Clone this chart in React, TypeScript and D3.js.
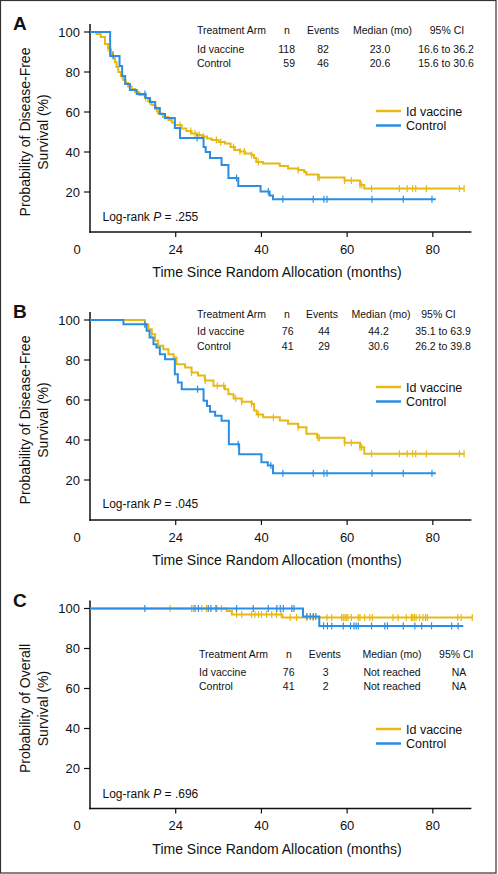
import React from 'react';
import * as d3 from 'd3';

const GOLD = '#E6B914';
const BLUE = '#2B8EE2';
const FONT = "'Liberation Sans', Arial, Helvetica, sans-serif";

// ---------- Panel A : disease-free survival, all patients ----------
const A_VACCINE_STEPS: [number, number][] = [
  [0, 100], [1.5, 99], [2.5, 97.5], [3.5, 94], [4.2, 92], [4.7, 90], [5.3, 87.5], [5.8, 85], [6.2, 82.5],
  [6.6, 80], [7.2, 78], [7.8, 76], [8.3, 74.5], [8.9, 72.7], [9.7, 71.5], [10.5, 70], [11.5, 68.5],
  [12.8, 67], [13.6, 65.3], [14.4, 63.5], [15.2, 61.5], [15.9, 59.3], [17, 57.5], [18.3, 56], [19.1, 54.7],
  [19.8, 53.5], [21.4, 51.8], [22.5, 50.5], [23.7, 49.3], [25, 48.5], [26.1, 47.7], [27.3, 46.8], [28.4, 46],
  [30, 45], [31.5, 44.3], [32.8, 42.5], [33.8, 41], [35, 40.2], [36.2, 39.3], [37.7, 38.5], [38.3, 37],
  [38.8, 35], [40.4, 34.3], [44.3, 33], [46.2, 31.8], [48.6, 31], [50, 30], [50.5, 28.8], [53.2, 27.3],
  [59.4, 25.7], [63, 23.5], [64, 21.7],
];
const A_VACCINE_END = 87.3;
const A_VACCINE_CENSOR = [4.2, 5, 7.5, 13, 14, 15.5, 21, 23.5, 24.5, 25.5, 26.5, 29.5, 30.5, 33.5, 35, 36,
  37.7, 39.3, 48.6, 53.2, 53.5, 59.4, 61, 63, 63.4, 65.7, 72.2, 74, 75.3, 76, 78.5, 86.2, 87.3];
const A_CONTROL_STEPS: [number, number][] = [
  [0, 100], [4.7, 88], [6.9, 83], [7.5, 78], [8.2, 74], [9.3, 71], [10.9, 69], [13, 67], [14, 65],
  [15.2, 62], [16.3, 59], [17.5, 57], [19.8, 52], [21, 47], [26.5, 42.5], [27, 40], [28, 37], [30.7, 33.5],
  [32.3, 27], [34.6, 23], [39.8, 20.2], [41.9, 18.3], [42.7, 16.4],
];
const A_CONTROL_END = 80.7;
const A_CONTROL_CENSOR = [5.4, 12.8, 25, 34.2, 41.6, 45, 52.1, 54.6, 55.3, 65.8, 73.1, 79.8];
const A_TABLE_ROWS = [
  ['Id vaccine', '118', '82', '23.0', '16.6 to 36.2'],
  ['Control', '59', '46', '20.6', '15.6 to 30.6'],
];
const A_PVALUE = '.255';

// ---------- Panel B : disease-free survival, randomized & vaccinated ----------
const B_VACCINE_STEPS: [number, number][] = [
  [0, 100], [12.8, 97.9], [13.6, 95.4], [14.4, 92.9], [15.2, 89.6], [15.9, 87.1], [17.1, 85.4], [18.3, 82.9],
  [19.5, 81.2], [20.2, 77.9], [22.2, 76.2], [23.7, 73.7], [25.2, 72.2], [26.8, 69.7], [28.8, 67.1],
  [31.5, 65.4], [32.3, 62.9], [33.5, 60.7], [35.4, 59.1], [37.7, 58.1], [38.3, 54.8], [38.9, 52.8],
  [40.4, 51.4], [44.3, 49.8], [46.2, 48.1], [48.6, 46.4], [50.5, 43.1], [53, 41.1], [59.4, 38.6],
  [63, 36.4], [64, 33.1],
];
const B_VACCINE_END = 87.3;
const B_VACCINE_CENSOR = [12.8, 14.4, 23.7, 26.9, 29.7, 31.2, 34, 35.4, 37.7, 39.3, 42.8, 48.6, 53.2, 53.5,
  59.4, 61, 63, 63.4, 65.7, 72.2, 74, 75.3, 76, 78.5, 86.2, 87.3];
const B_CONTROL_STEPS: [number, number][] = [
  [0, 100], [7.8, 97.9], [13.2, 94.6], [13.9, 91.2], [14.8, 87.9], [15.5, 86.2], [16.3, 82.9], [17.5, 80.4],
  [19.8, 72.9], [20.5, 68.8], [21.4, 65.4], [26.5, 59.6], [27.3, 57], [28, 54.1], [29.2, 52.1], [30.7, 49.6],
  [32.4, 37.9], [34.8, 32.9], [40, 28.9], [41.5, 27.2], [42.7, 23.4],
];
const B_CONTROL_END = 80.7;
const B_CONTROL_CENSOR = [12.8, 25.1, 34.6, 42.2, 45, 52.1, 54.6, 55.3, 65.8, 73.1, 79.8];
const B_TABLE_ROWS = [
  ['Id vaccine', '76', '44', '44.2', '35.1 to 63.9'],
  ['Control', '41', '29', '30.6', '26.2 to 39.8'],
];
const B_PVALUE = '.045';

// ---------- Panel C : overall survival ----------
const C_VACCINE_STEPS: [number, number][] = [[0, 100], [31.9, 98.7], [33.1, 97], [44.9, 95.5]];
const C_VACCINE_END = 89.3;
const C_VACCINE_CENSOR = [18.7, 23.7, 24.1, 26.1, 27.2, 29.6, 30.7, 34.2, 35.4, 37.7, 38.5, 39.3, 40, 41.2,
  42.4, 43.5, 44.6, 46.7, 48.2, 50.6, 52.1, 55.3, 56.4, 58.7, 59.1, 59.5, 59.8, 60.2, 61, 62.6, 63, 64.1,
  65.3, 65.9, 70.7, 71.9, 73.8, 75, 75.3, 75.7, 76.1, 76.9, 77.7, 78.3, 78.7, 85.8, 86.6, 89.2];
const C_CONTROL_STEPS: [number, number][] = [[0, 100], [49.7, 96], [53.5, 91.3]];
const C_CONTROL_END = 87.1;
const C_CONTROL_CENSOR = [12.8, 24.5, 25.3, 27.6, 28.2, 29.4, 34.2, 38.1, 41.6, 43.6, 44.4, 45.1, 47.1, 47.6,
  50.6, 51.4, 52.1, 52.7, 54.5, 55.4, 56.4, 59.1, 60.8, 61.6, 62.1, 62.6, 65.7, 68.8, 69.4, 73.1, 75.8,
  77.4, 79.7, 84.4, 85.9];
const C_TABLE_ROWS = [
  ['Id vaccine', '76', '3', 'Not reached', 'NA'],
  ['Control', '41', '2', 'Not reached', 'NA'],
];
const C_PVALUE = '.696';

// ---------- shared axis / text ----------
const X_TICKS = [0, 20, 40, 60, 80];
const X_TICK_LABELS = ['0', '24', '40', '60', '80'];
const Y_TICKS = [20, 40, 60, 80, 100];
const TABLE_HEADER = ['Treatment Arm', 'n', 'Events', 'Median (mo)', '95% CI'];
const LEGEND_LABELS = ['Id vaccine', 'Control'];
const X_TITLE = 'Time Since Random Allocation (months)';

const PANELS = [
  {
    letter: 'A', y0: 232, title: ['Probability of Disease-Free', 'Survival (%)'],
    vac: { steps: A_VACCINE_STEPS, end: A_VACCINE_END, censor: A_VACCINE_CENSOR },
    ctl: { steps: A_CONTROL_STEPS, end: A_CONTROL_END, censor: A_CONTROL_CENSOR },
    rows: A_TABLE_ROWS, p: A_PVALUE,
    tableY: -198, rowY: [-179.5, -165], legendY: -121, pY: -11,
    hx: [197, 287, 323, 382.5, 447], vx: [197, 295, 323, 380, 446], vAnchor: ['start', 'end', 'middle', 'middle', 'middle'],
  },
  {
    letter: 'B', y0: 520, title: ['Probability of Disease-Free', 'Survival (%)'],
    vac: { steps: B_VACCINE_STEPS, end: B_VACCINE_END, censor: B_VACCINE_CENSOR },
    ctl: { steps: B_CONTROL_STEPS, end: B_CONTROL_END, censor: B_CONTROL_CENSOR },
    rows: B_TABLE_ROWS, p: B_PVALUE,
    tableY: -202.5, rowY: [-185, -170.5], legendY: -133, pY: -12,
    hx: [197, 287, 322, 381, 438.5], vx: [197, 293.5, 324, 378.5, 443], vAnchor: ['start', 'end', 'middle', 'middle', 'middle'],
  },
  {
    letter: 'C', y0: 808.5, title: ['Probability of Overall', 'Survival (%)'],
    vac: { steps: C_VACCINE_STEPS, end: C_VACCINE_END, censor: C_VACCINE_CENSOR },
    ctl: { steps: C_CONTROL_STEPS, end: C_CONTROL_END, censor: C_CONTROL_CENSOR },
    rows: C_TABLE_ROWS, p: C_PVALUE,
    tableY: -150.5, rowY: [-133, -119], legendY: -79.5, pY: -11,
    hx: [199, 289, 324.7, 392, 456.3], vx: [199, 294.5, 325.7, 392, 459], vAnchor: ['start', 'end', 'middle', 'middle', 'middle'],
  },
];

const x = d3.scaleLinear().domain([0, 89]).range([90, 471.4]);

function survAt(steps: [number, number][], t: number) {
  let s = steps[0][1];
  for (const [tt, v] of steps) if (tt <= t) s = v;
  return s;
}

function Curve({ series, y, color }: any) {
  const pts: [number, number][] = [...series.steps, [series.end, series.steps[series.steps.length - 1][1]]];
  const line = d3.line<[number, number]>().x((d) => x(d[0])).y((d) => y(d[1])).curve(d3.curveStepAfter);
  return (
    <g>
      <path d={line(pts) || ''} fill="none" stroke={color} strokeWidth={2} strokeLinejoin="miter" />
      {series.censor.map((t: number, i: number) => {
        const yy = y(survAt(series.steps, t));
        return <line key={i} x1={x(t)} x2={x(t)} y1={yy - 3.5} y2={yy + 3.5} stroke={color} strokeWidth={1.2} />;
      })}
    </g>
  );
}

function Panel({ cfg }: any) {
  const y = d3.scaleLinear().domain([0, 100]).range([cfg.y0, cfg.y0 - 200]);
  const y0 = cfg.y0;
  const yMid = y(50);
  return (
    <g fontFamily={FONT}>
      <text x={13} y={y0 - 202} fontSize={19} fontWeight="bold" fill="#111">{cfg.letter}</text>
      {/* y title */}
      <text transform={`translate(29.5,${yMid}) rotate(-90)`} textAnchor="middle" fontSize={14} fill="#111">{cfg.title[0]}</text>
      <text transform={`translate(47.5,${yMid}) rotate(-90)`} textAnchor="middle" fontSize={14} fill="#111">{cfg.title[1]}</text>
      {/* axes */}
      <line x1={x(0)} x2={x(0)} y1={y(104)} y2={y0 + 0.75} stroke="#111" strokeWidth={1.5} />
      <line x1={x(0) - 0.75} x2={x(89)} y1={y0} y2={y0} stroke="#111" strokeWidth={1.5} />
      {Y_TICKS.map((v) => (
        <g key={v}>
          <line x1={x(0) - 6} x2={x(0)} y1={y(v)} y2={y(v)} stroke="#111" strokeWidth={1.2} />
          <text x={80} y={y(v) + 4.6} textAnchor="end" fontSize={13} fill="#111">{v}</text>
        </g>
      ))}
      {X_TICKS.map((v, i) => (
        <g key={v}>
          {v > 0 && <line x1={x(v)} x2={x(v)} y1={y0} y2={y0 + 5} stroke="#111" strokeWidth={1.2} />}
          <text x={v === 0 ? x(v) - 13 : x(v)} y={y0 + 21.5} textAnchor="middle" fontSize={13} fill="#111">{X_TICK_LABELS[i]}</text>
        </g>
      ))}
      <text x={277} y={y0 + 45} textAnchor="middle" fontSize={14} fill="#111">{X_TITLE}</text>
      {/* curves */}
      <Curve series={cfg.vac} y={y} color={GOLD} />
      <Curve series={cfg.ctl} y={y} color={BLUE} />
      {/* table */}
      <g fontSize={10.5} fill="#111">
        {TABLE_HEADER.map((h, i) => (
          <text key={h} x={cfg.hx[i]} y={y0 + cfg.tableY} textAnchor={i === 0 ? 'start' : 'middle'}>{h}</text>
        ))}
        {cfg.rows.map((row: string[], r: number) =>
          row.map((c, i) => (
            <text key={r + '-' + i} x={cfg.vx[i]} y={y0 + cfg.rowY[r]} textAnchor={cfg.vAnchor[i]}>{c}</text>
          ))
        )}
      </g>
      {/* legend */}
      {LEGEND_LABELS.map((l, i) => (
        <g key={l}>
          <line x1={376} x2={401} y1={y0 + cfg.legendY + i * 14.5} y2={y0 + cfg.legendY + i * 14.5}
            stroke={i === 0 ? GOLD : BLUE} strokeWidth={2.5} />
          <text x={406} y={y0 + cfg.legendY + i * 14.5 + 4.5} fontSize={12.5} fill="#111">{l}</text>
        </g>
      ))}
      {/* p-value */}
      <text x={102.5} y={y0 + cfg.pY} fontSize={12} fill="#111">
        Log-rank <tspan fontStyle="italic">P</tspan> = {cfg.p}
      </text>
    </g>
  );
}

export default function App() {
  return (
    <svg width={498} height={874} style={{ position: 'absolute', left: 0, top: 0, background: '#fff' }}>
      <rect x={0} y={0} width={498} height={874} fill="#fff" />
      <rect x={0.5} y={0.5} width={495.5} height={872.5} fill="none" stroke="#333" strokeWidth={1.2} />
      {PANELS.map((p) => <Panel key={p.letter} cfg={p} />)}
    </svg>
  );
}
